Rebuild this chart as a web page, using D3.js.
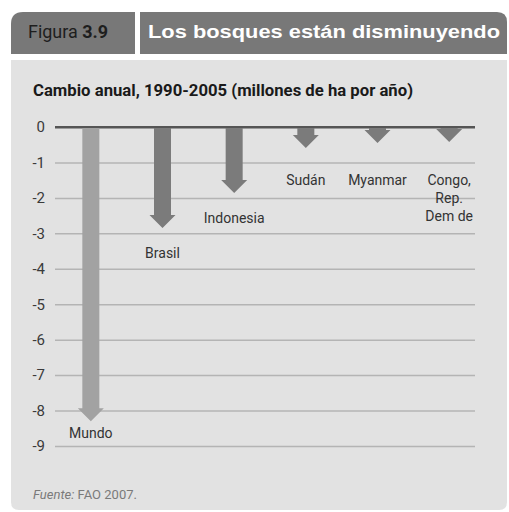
<!DOCTYPE html>
<html>
<head>
<meta charset="utf-8">
<script src="https://cdn.jsdelivr.net/npm/d3@7"></script>
<style>
  body { margin: 0; background: #fff; }
  svg { display: block; }
  .narrow { font-family: Roboto, "Liberation Sans", sans-serif; }
</style>
</head>
<body>
<svg id="chart" width="509" height="512"></svg>
<script>
// datos
var paises = ["Mundo", "Brasil", "Indonesia", "Sudán", "Myanmar", "Congo, Rep. Dem de"];
var cambio = [-8.3, -2.85, -1.86, -0.59, -0.45, -0.42];
var ticks = [0, -1, -2, -3, -4, -5, -6, -7, -8, -9];

var svg = d3.select("#chart");

// cabecera
svg.append("path")
  .attr("d", "M11,54 L11,24 Q11,12 23,12 L135,12 L135,54 Z")
  .attr("fill", "#787878");
svg.append("path")
  .attr("d", "M140,54 L140,12 L497,12 Q507,12 507,22 L507,54 Z")
  .attr("fill", "#787878");

var fig = svg.append("text")
  .attr("class", "narrow")
  .attr("x", 28).attr("y", 38)
  .attr("font-size", 18)
  .attr("fill", "#1e1e1e")
  .attr("textLength", 80)
  .attr("lengthAdjust", "spacingAndGlyphs");
fig.append("tspan").text("Figura ");
fig.append("tspan").attr("font-weight", "bold").text("3.9");

svg.append("text")
  .attr("x", 148).attr("y", 38)
  .attr("font-family", "'Liberation Sans', Arial, sans-serif")
  .attr("font-weight", "bold")
  .attr("font-size", 18)
  .attr("fill", "#fff")
  .attr("textLength", 352)
  .attr("lengthAdjust", "spacingAndGlyphs")
  .text("Los bosques están disminuyendo");

// panel
svg.append("path")
  .attr("d", "M11,60 L507,60 L507,502 Q507,510 499,510 L19,510 Q11,510 11,502 Z")
  .attr("fill", "#e2e2e2");

svg.append("text")
  .attr("class", "narrow")
  .attr("x", 33).attr("y", 96)
  .attr("font-size", 16)
  .attr("font-weight", "bold")
  .attr("fill", "#1a1a1a")
  .attr("textLength", 380)
  .attr("lengthAdjust", "spacingAndGlyphs")
  .text("Cambio anual, 1990-2005 (millones de ha por año)");

var y = d3.scaleLinear().domain([0, -9]).range([127, 446]);
var x = d3.scaleBand().domain(paises).range([55, 485]);

// lineas de la cuadricula
var yAxis = d3.axisLeft(y)
  .tickValues(ticks)
  .tickSize(-420)
  .tickPadding(10)
  .tickFormat(d3.format("d"));

var g = svg.append("g")
  .attr("transform", "translate(55,0)")
  .call(yAxis);
g.select(".domain").remove();
g.selectAll(".tick line")
  .attr("stroke", function(d){ return d === 0 ? "#555" : "#b4b4b4"; })
  .attr("stroke-width", function(d){ return d === 0 ? 2 : 1.5; });
g.selectAll(".tick text")
  .attr("class", "narrow")
  .attr("font-size", 15)
  .attr("fill", "#3a3a3a")
  .text(function(d){ return d === 0 ? "0" : "-" + Math.abs(d); });

// flechas
var shaft = 8.5, head = 13, headLen = 13;
var arrow = function(d, i){
  var cx = x(paises[i]) + x.bandwidth() / 2;
  var y0 = y(0), y1 = y(d), yh = y1 - headLen;
  return "M" + (cx - shaft) + "," + y0 +
    "L" + (cx + shaft) + "," + y0 +
    "L" + (cx + shaft) + "," + yh +
    "L" + (cx + head) + "," + yh +
    "L" + cx + "," + y1 +
    "L" + (cx - head) + "," + yh +
    "L" + (cx - shaft) + "," + yh + "Z";
};

svg.append("g").selectAll("path")
  .data(cambio)
  .enter()
  .append("path")
  .attr("d", arrow)
  .attr("fill", function(d, i){ return i === 0 ? "#a2a2a2" : "#7b7b7b"; });

// zero line drawn over the arrows
svg.append("line")
  .attr("x1", 55).attr("x2", 475)
  .attr("y1", y(0)).attr("y2", y(0))
  .attr("stroke", "#555").attr("stroke-width", 2);

// etiquetas
var labels = svg.append("g").selectAll("text")
  .data(paises)
  .enter()
  .append("text")
  .attr("class", "narrow")
  .attr("font-size", 14)
  .attr("fill", "#333")
  .attr("text-anchor", "middle")
  .attr("transform", function(d, i){
    var ly = Math.min(y(cambio[i]) + 30, y(-9) - 8);
    ly = Math.max(ly, y(-1.64));
    return "translate(" + (x(d) + x.bandwidth() / 2) + "," + ly + ")";
  });

labels.each(function(d){
  var parts = d.indexOf(",") > 0 ? ["Congo,", "Rep.", "Dem de"] : [d];
  var t = d3.select(this);
  parts.forEach(function(p, k){
    t.append("tspan").attr("x", 0).attr("dy", k === 0 ? 0 : 18).text(p);
  });
});

// fuente
var src = svg.append("text")
  .attr("class", "narrow")
  .attr("x", 33).attr("y", 499)
  .attr("font-size", 13)
  .attr("fill", "#7a7a7a");
src.append("tspan").attr("font-style", "italic").text("Fuente:");
src.append("tspan").text(" FAO 2007.");
</script>
</body>
</html>
